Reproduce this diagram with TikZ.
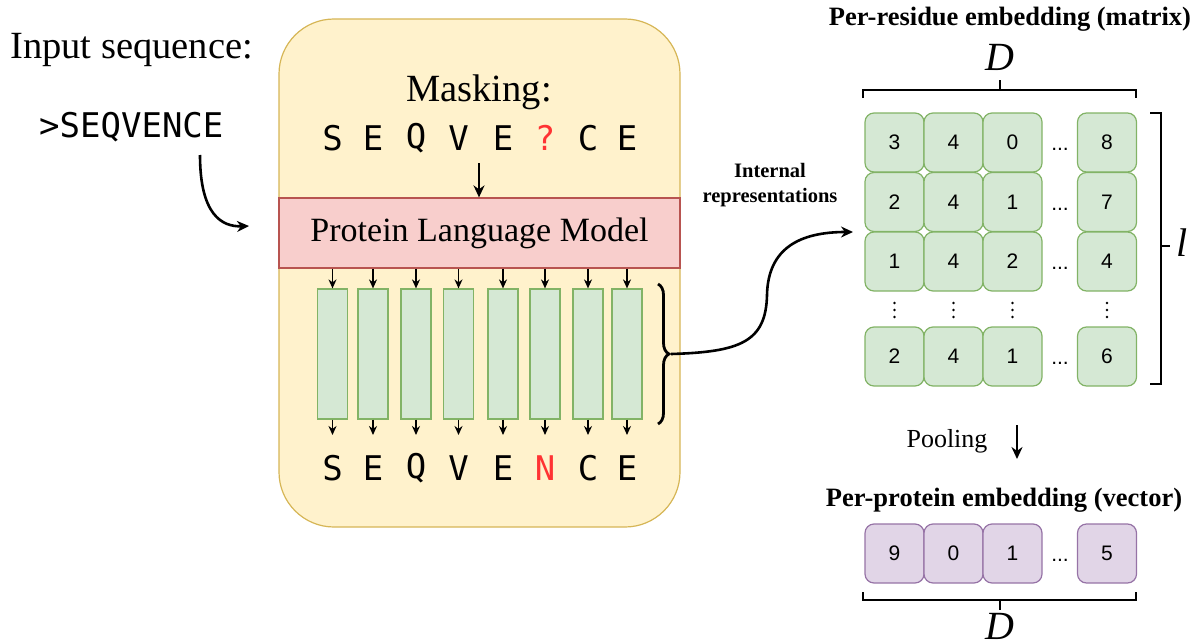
\documentclass[tikz,border=0pt]{standalone}
\usepackage{fontspec}
\setmainfont{Liberation Serif}
\newfontfamily\monof{DejaVu Sans Mono}
\newfontfamily\arialf{Liberation Sans}
\usetikzlibrary{arrows.meta,decorations.pathreplacing}
\definecolor{yfill}{HTML}{FFF2CC}
\definecolor{ydraw}{HTML}{D6B656}
\definecolor{rfill}{HTML}{F8CECC}
\definecolor{rdraw}{HTML}{B85450}
\definecolor{gfill}{HTML}{D5E8D4}
\definecolor{gdraw}{HTML}{82B366}
\definecolor{pfill}{HTML}{E1D5E7}
\definecolor{pdraw}{HTML}{9673A6}
\definecolor{redtxt}{HTML}{FF3333}
\begin{document}
\begin{tikzpicture}[x=1pt,y=-1pt,
  bigtxt/.style={font=\fontsize{38.5}{40}\selectfont},
  seqletter/.style={font=\monof\fontsize{34}{36}\selectfont,inner sep=0pt},
  bar/.style={draw=gdraw,fill=gfill,line width=1.2pt,minimum width=30pt,minimum height=130pt,inner sep=0pt},
  gcell/.style={draw=gdraw,fill=gfill,line width=1.2pt,rounded corners=9pt,minimum width=59pt,minimum height=59pt,inner sep=0pt,font=\arialf\fontsize{21}{22}\selectfont},
  pcell/.style={gcell,draw=pdraw,fill=pfill},
  cdots/.style={font=\arialf\fontsize{21}{22}\selectfont,inner sep=0pt,anchor=base},
  title/.style={font=\bfseries\fontsize{26.5}{28}\selectfont,inner sep=0pt},
  mathlbl/.style={font=\itshape\fontsize{40}{42}\selectfont,inner sep=0pt},
  bigarrow/.style={-{Stealth[length=12pt,width=11pt]},line width=2.6pt},
  smallarrow/.style={-{Stealth[length=9pt,width=8pt]},line width=1.5pt},
  bracketline/.style={line width=2.2pt},
  dotmark/.style={fill=black,circle,inner sep=0pt,minimum size=2.6pt}
]
\useasboundingbox (0,0) rectangle (1199,642);

% main model box
\node[draw=ydraw,fill=yfill,line width=1.2pt,rounded corners=55pt,minimum width=401pt,minimum height=508pt,inner sep=0pt] (box) at (479.5,273) {};
\node[draw=rdraw,fill=rfill,line width=1.2pt,minimum width=401pt,minimum height=70pt,inner sep=0pt,font=\fontsize{34}{36}\selectfont] (plm) at (479.5,233) {Protein Language Model};

% input
\node[bigtxt,anchor=west,inner sep=0pt] (inlbl) at (10,50) {Input sequence:};
\node[anchor=west,inner sep=0pt,font=\monof\fontsize{34}{36}\selectfont] (inseq) at (39,127) {>SEQVENCE};
\coordinate (instart) at (200,155);
\coordinate (inend) at (249,226);
\draw[bigarrow] (instart) .. controls (200,215) and (222,227) .. (inend);

% masking
\node[bigtxt,inner sep=0pt] (mask) at (479,92) {Masking:};
\foreach \x/\l/\c [count=\i] in {332.5/S/black,373/E/black,416/Q/black,458.5/V/black,503/E/black,545/?/redtxt,588/C/black,627/E/black}{
  \node[seqletter,text=\c] (top\i) at (\x,138) {\l};
  \node[bar] (bar\i) at (\x,354) {};
  \draw[smallarrow] (\x,268.5) -- (bar\i.north);
}
\foreach \x/\l/\c [count=\i] in {332.5/S/black,373/E/black,416/Q/black,458.5/V/black,503/E/black,545/N/redtxt,588/C/black,627/E/black}{
  \node[seqletter,text=\c] (bot\i) at (\x,468) {\l};
  \draw[smallarrow] (bar\i.south) -- (\x,435);
}
\coordinate (maskarr) at (479,163);
\draw[bigarrow] (maskarr) -- (plm.north -| maskarr);

% brace
\draw[line width=2.8pt,decorate,decoration={brace,amplitude=11pt}] (658,284) -- (658,424);
\coordinate (bracetip) at (671,354);

% internal representations
\node[font=\bfseries\fontsize{20.5}{25}\selectfont,align=center,inner sep=0pt] (intrep) at (770,185) {Internal\\representations};

% matrix
\def\colA{894.5}\def\colB{953.5}\def\colC{1012.5}\def\colD{1107}
\foreach \y/\a/\b/\c/\d [count=\r] in {142.5/3/4/0/8, 202/2/4/1/7, 261.5/1/4/2/4, 356.5/2/4/1/6}{
  \node[gcell] (m\r a) at (\colA,\y) {\a};
  \node[gcell] (m\r b) at (\colB,\y) {\b};
  \node[gcell] (m\r c) at (\colC,\y) {\c};
  \node[gcell] (m\r d) at (\colD,\y) {\d};
  \node[cdots] (m\r dots) at (1060,\y+8) {...};
}
\foreach \x [count=\i] in {\colA,\colB,\colC,\colD}{
  \node[dotmark] (vdA\i) at (\x,303) {};
  \node[dotmark] (vdB\i) at (\x,310) {};
  \node[dotmark] (vdC\i) at (\x,317) {};
}
\coordinate (mtip) at (853,232);
\draw[bigarrow] (bracetip) .. controls (740,352) and (766,342) .. (767,295)
  .. controls (768,248) and (800,232) .. (mtip);
\node[title] (t1) at (1010,19) {Per-residue embedding (matrix)};
\node[mathlbl] (d1) at (1000,57) {D};
\draw[bracketline] (863,98) -- (863,90) -- (1136,90) -- (1136,98);
\draw[bracketline] (1000,90) -- (1000,80);
\draw[bracketline] (1150,113) -- (1161,113) -- (1161,384) -- (1150,384);
\node[mathlbl,anchor=west] (lab) at (1176,243) {l};
\draw[bracketline] (1161,246) -- (1170,246);

% pooling
\node[font=\fontsize{26}{28}\selectfont,inner sep=0pt] (pool) at (947,441) {Pooling};
\draw[bigarrow] (1017,425) -- (1017,459);

\node[title] (t2) at (1004,500) {Per-protein embedding (vector)};
\node[pcell] (v1) at (\colA,553.5) {9};
\node[pcell] (v2) at (\colB,553.5) {0};
\node[pcell] (v3) at (\colC,553.5) {1};
\node[pcell] (v4) at (\colD,553.5) {5};
\node[cdots] (vdots) at (1060,561.5) {...};
\draw[bracketline] (863,592) -- (863,600) -- (1136,600) -- (1136,592);
\node[mathlbl] (d2) at (1000,626) {D};
\draw[bracketline] (1000,600) -- (1000,610);
\end{tikzpicture}
\end{document}
